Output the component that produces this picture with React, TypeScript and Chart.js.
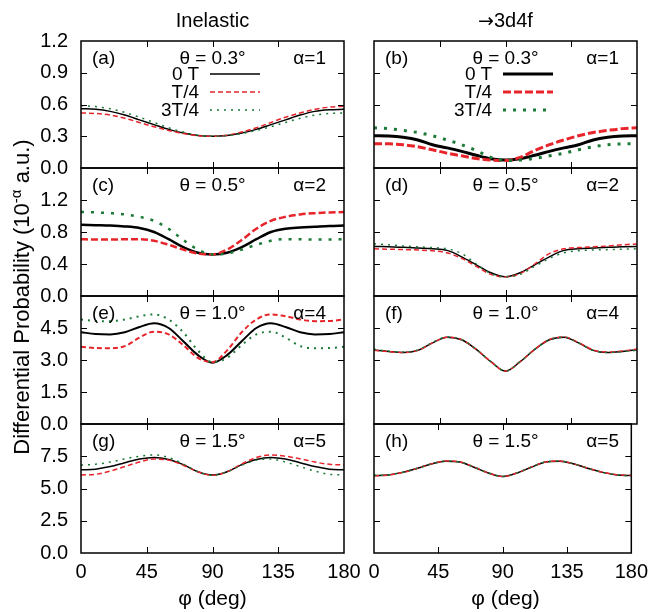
import React, { useEffect, useRef } from "react";
import { Chart, registerables } from "chart.js";
Chart.register(...registerables);

// ---------- data ----------
const phi = [0, 10, 20, 30, 40, 50, 60, 70, 80, 90, 100, 110, 120, 130, 140, 150, 160, 170, 180];
const phiTicks = [0, 45, 90, 135, 180];

// (a) inelastic, theta = 0.3
const a0T = [0.56, 0.555, 0.535, 0.5, 0.455, 0.41, 0.365, 0.33, 0.307, 0.3, 0.307, 0.33, 0.365, 0.41, 0.455, 0.5, 0.535, 0.55, 0.555];
const aT4 = [0.52, 0.515, 0.5, 0.47, 0.43, 0.39, 0.355, 0.325, 0.305, 0.3, 0.31, 0.34, 0.38, 0.43, 0.48, 0.52, 0.555, 0.575, 0.585];
const a3T4 = [0.59, 0.58, 0.56, 0.525, 0.48, 0.43, 0.38, 0.34, 0.31, 0.3, 0.305, 0.325, 0.355, 0.39, 0.43, 0.47, 0.5, 0.515, 0.52];
// (b) 3d4f, theta = 0.3
const b0T = [0.305, 0.302, 0.29, 0.265, 0.22, 0.19, 0.157, 0.12, 0.088, 0.076, 0.088, 0.12, 0.157, 0.19, 0.22, 0.265, 0.29, 0.302, 0.305];
const bT4 = [0.23, 0.228, 0.22, 0.2, 0.172, 0.14, 0.115, 0.09, 0.075, 0.07, 0.1, 0.165, 0.22, 0.265, 0.305, 0.335, 0.355, 0.372, 0.38];
const b3T4 = [0.38, 0.372, 0.355, 0.335, 0.305, 0.265, 0.22, 0.165, 0.1, 0.07, 0.075, 0.09, 0.115, 0.14, 0.172, 0.2, 0.22, 0.228, 0.23];
// (c) inelastic, theta = 0.5
const c0T = [0.89, 0.885, 0.88, 0.87, 0.85, 0.8, 0.71, 0.61, 0.54, 0.52, 0.54, 0.61, 0.71, 0.8, 0.84, 0.855, 0.865, 0.875, 0.88];
const cT4 = [0.71, 0.705, 0.705, 0.71, 0.71, 0.69, 0.64, 0.58, 0.53, 0.52, 0.58, 0.7, 0.84, 0.94, 0.99, 1.02, 1.035, 1.045, 1.05];
const c3T4 = [1.05, 1.045, 1.035, 1.02, 0.99, 0.94, 0.84, 0.7, 0.58, 0.52, 0.53, 0.58, 0.64, 0.69, 0.71, 0.71, 0.705, 0.705, 0.71];
// (d) 3d4f, theta = 0.5
const d0T = [0.62, 0.615, 0.61, 0.6, 0.59, 0.57, 0.49, 0.39, 0.29, 0.24, 0.29, 0.39, 0.49, 0.57, 0.59, 0.6, 0.61, 0.615, 0.62];
const dT4 = [0.59, 0.585, 0.58, 0.575, 0.565, 0.54, 0.47, 0.37, 0.27, 0.24, 0.28, 0.4, 0.53, 0.59, 0.605, 0.615, 0.625, 0.64, 0.65];
const d3T4 = [0.65, 0.64, 0.625, 0.615, 0.605, 0.59, 0.53, 0.4, 0.28, 0.24, 0.27, 0.37, 0.47, 0.54, 0.565, 0.575, 0.58, 0.585, 0.59];
// (e) inelastic, theta = 1.0
const e0T = [4.3, 4.22, 4.2, 4.3, 4.55, 4.72, 4.5, 3.88, 3.23, 2.87, 3.23, 3.88, 4.5, 4.72, 4.55, 4.3, 4.2, 4.22, 4.3];
const eT4 = [3.62, 3.56, 3.55, 3.65, 4.05, 4.33, 4.2, 3.7, 3.1, 2.9, 3.45, 4.3, 4.9, 5.14, 5.05, 4.9, 4.82, 4.83, 4.9];
const e3T4 = [4.9, 4.83, 4.82, 4.9, 5.05, 5.14, 4.9, 4.3, 3.45, 2.9, 3.1, 3.7, 4.2, 4.33, 4.05, 3.65, 3.55, 3.56, 3.62];
// (f) 3d4f, theta = 1.0
const f0T = [3.47, 3.4, 3.35, 3.45, 3.8, 4.07, 3.95, 3.5, 2.92, 2.48, 2.92, 3.5, 3.95, 4.07, 3.8, 3.45, 3.35, 3.4, 3.48];
const fT4 = [3.46, 3.39, 3.35, 3.45, 3.8, 4.07, 3.95, 3.5, 2.92, 2.48, 2.92, 3.5, 3.96, 4.08, 3.82, 3.47, 3.37, 3.42, 3.52];
const f3T4 = [3.5, 3.42, 3.37, 3.47, 3.82, 4.08, 3.96, 3.5, 2.92, 2.48, 2.92, 3.5, 3.95, 4.07, 3.8, 3.45, 3.35, 3.39, 3.46];
// (g) inelastic, theta = 1.5
const g0T = [6.45, 6.5, 6.7, 7.0, 7.28, 7.4, 7.25, 6.85, 6.3, 6.05, 6.3, 6.85, 7.25, 7.4, 7.28, 7.0, 6.7, 6.5, 6.45];
const gT4 = [6.05, 6.1, 6.35, 6.7, 7.05, 7.28, 7.2, 6.8, 6.3, 6.02, 6.3, 6.9, 7.4, 7.6, 7.5, 7.3, 7.05, 6.88, 6.82];
const g3T4 = [6.82, 6.88, 7.05, 7.3, 7.5, 7.6, 7.4, 6.9, 6.3, 6.02, 6.3, 6.8, 7.2, 7.28, 7.05, 6.7, 6.35, 6.1, 6.05];
// (h) 3d4f, theta = 1.5
const h0T = [6.0, 6.05, 6.25, 6.55, 6.9, 7.12, 7.05, 6.65, 6.2, 5.93, 6.2, 6.65, 7.05, 7.12, 6.9, 6.55, 6.25, 6.05, 6.0];
const hT4 = [5.98, 6.04, 6.24, 6.55, 6.9, 7.13, 7.06, 6.66, 6.2, 5.93, 6.2, 6.66, 7.06, 7.13, 6.9, 6.56, 6.26, 6.06, 6.02];
const h3T4 = [6.02, 6.06, 6.26, 6.56, 6.9, 7.13, 7.06, 6.66, 6.2, 5.93, 6.2, 6.66, 7.06, 7.13, 6.9, 6.55, 6.24, 6.04, 5.98];

const rowMax = [1.2, 1.6, 6, 10];
const rowStep = [0.3, 0.4, 1.5, 2.5];
const rowTicks = [
  [0, 0.3, 0.6, 0.9, 1.2],
  [0, 0.4, 0.8, 1.2, 1.6],
  [0, 1.5, 3, 4.5, 6],
  [0, 2.5, 5, 7.5, 10],
];
const thetaLabels = ["θ = 0.3°", "θ = 0.5°", "θ = 1.0°", "θ = 1.5°"];
const alphaLabels = ["α=1", "α=2", "α=4", "α=5"];
const seriesNames = ["0 T", "T/4", "3T/4"];
const columnTitles = ["Inelastic", "3d4f"];

// ---------- layout / style ----------
const W = 655;
const H = 612;
const COLS = [
  { left: 81, right: 344 },
  { left: 374, right: 637 },
];
const ROWS = [
  { top: 41, bottom: 168 },
  { top: 168, bottom: 296 },
  { top: 296, bottom: 424 },
  { top: 424, bottom: 553 },
];
const Y_AXIS_W = 60;
const X_AXIS_H = 40;
const FONT = "'Liberation Sans', Arial, Helvetica, sans-serif";
const COLORS = ["#000000", "#e8242b", "#1d7a38"];

type PanelDef = { letter: string; row: number; col: number; series: number[][]; lw: number; legend: boolean };

const PANELS: PanelDef[] = [
  { letter: "(a)", row: 0, col: 0, series: [a0T, aT4, a3T4], lw: 1.5, legend: true },
  { letter: "(b)", row: 0, col: 1, series: [b0T, bT4, b3T4], lw: 3, legend: true },
  { letter: "(c)", row: 1, col: 0, series: [c0T, cT4, c3T4], lw: 2.5, legend: false },
  { letter: "(d)", row: 1, col: 1, series: [d0T, dT4, d3T4], lw: 1.5, legend: false },
  { letter: "(e)", row: 2, col: 0, series: [e0T, eT4, e3T4], lw: 2, legend: false },
  { letter: "(f)", row: 2, col: 1, series: [f0T, fT4, f3T4], lw: 1.5, legend: false },
  { letter: "(g)", row: 3, col: 0, series: [g0T, gT4, g3T4], lw: 1.5, legend: false },
  { letter: "(h)", row: 3, col: 1, series: [h0T, hT4, h3T4], lw: 1.5, legend: false },
];

function dashFor(i: number, lw: number): number[] {
  if (i === 1) return [Math.max(5, Math.round(lw * 2.7)), 3];
  if (i === 2) return [Math.max(2, Math.round(lw)), lw >= 2.5 ? 7 : 5];
  return [];
}

const framePlugin = {
  id: "frame",
  afterDatasetsDraw(chart: any, _args: any, opts: any) {
    const { ctx, chartArea: a, scales } = chart;
    ctx.save();
    ctx.strokeStyle = "#000";
    ctx.lineWidth = 1;
    ctx.beginPath();
    for (const v of phiTicks) {
      if (v === phiTicks[0] || v === phiTicks[phiTicks.length - 1]) continue;
      const px = Math.round(scales.x.getPixelForValue(v)) + 0.5;
      ctx.moveTo(px, a.bottom);
      ctx.lineTo(px, a.bottom - 6);
      ctx.moveTo(px, a.top);
      ctx.lineTo(px, a.top + 6);
    }
    const yt: number[] = opts.yTicks || [];
    for (let k = 1; k < yt.length - 1; k++) {
      const py = Math.round(scales.y.getPixelForValue(yt[k])) + 0.5;
      ctx.moveTo(a.left, py);
      ctx.lineTo(a.left + 6, py);
      ctx.moveTo(a.right, py);
      ctx.lineTo(a.right - 6, py);
    }
    ctx.stroke();
    ctx.lineWidth = 1.5;
    ctx.strokeRect(a.left, a.top, a.right - a.left, a.bottom - a.top);

    if (opts.legend) {
      chart.data.datasets.forEach((ds: any, i: number) => {
        const y = a.top + 33 + 18 * i;
        ctx.beginPath();
        ctx.strokeStyle = ds.borderColor;
        ctx.lineWidth = ds.borderWidth;
        ctx.setLineDash(ds.borderDash || []);
        ctx.moveTo(a.left + 129, y);
        ctx.lineTo(a.left + 179, y);
        ctx.stroke();
      });
      ctx.setLineDash([]);
    }
    ctx.restore();
  },
};

function Panel({ def }: { def: PanelDef }) {
  const ref = useRef<HTMLCanvasElement | null>(null);
  useEffect(() => {
    if (!ref.current) return;
    const col = COLS[def.col];
    const row = ROWS[def.row];
    const ymax = rowMax[def.row];
    const showTop = def.row === 0;
    const isLeft = def.col === 0;
    const isBottom = def.row === 3;
    const chart = new Chart(ref.current, {
      type: "line",
      data: {
        datasets: def.series.map((vals, i) => ({
          label: seriesNames[i],
          data: phi.map((p, k) => ({ x: p, y: vals[k] })),
          borderColor: COLORS[i],
          borderWidth: def.lw,
          borderDash: dashFor(i, def.lw),
          pointRadius: 0,
          fill: false,
          cubicInterpolationMode: "monotone",
          order: 2 - i,
        })),
      },
      options: {
        animation: false,
        responsive: false,
        events: [],
        layout: {
          padding: {
            left: col.left - Y_AXIS_W,
            right: W - col.right,
            top: row.top,
            bottom: H - row.bottom - X_AXIS_H,
          },
        },
        plugins: {
          legend: { display: false },
          tooltip: { enabled: false },
          frame: { legend: def.legend, yTicks: rowTicks[def.row] },
        } as any,
        scales: {
          x: {
            type: "linear",
            min: phiTicks[0],
            max: phiTicks[phiTicks.length - 1],
            grid: { display: false, drawTicks: false },
            border: { display: false },
            afterFit: (s: any) => {
              s.height = X_AXIS_H;
            },
            ticks: {
              display: isBottom,
              stepSize: 45,
              autoSkip: false,
              maxRotation: 0,
              padding: 7,
              color: "#000",
              font: { family: FONT, size: 20 },
              callback: (v: any) => String(v),
            },
          },
          y: {
            type: "linear",
            min: 0,
            max: ymax,
            grid: { display: false, drawTicks: false },
            border: { display: false },
            afterFit: (s: any) => {
              s.width = Y_AXIS_W;
            },
            ticks: {
              display: isLeft,
              stepSize: rowStep[def.row],
              autoSkip: false,
              padding: 13,
              color: "#000",
              font: { family: FONT, size: 20 },
              callback: (v: any) => (showTop || Math.abs(v - ymax) > 1e-9 ? Number(v).toFixed(1) : ""),
            },
          },
        },
      },
      plugins: [framePlugin],
    } as any);
    return () => chart.destroy();
  }, [def]);
  return (
    <canvas
      ref={ref}
      width={W}
      height={H}
      style={{ position: "absolute", left: 0, top: 0, width: W, height: H }}
    />
  );
}

function Txt({ x, y, align, size, children }: { x: number; y: number; align: "left" | "center" | "right"; size: number; children: any }) {
  const w = 240;
  const left = align === "left" ? x : align === "center" ? x - w / 2 : x - w;
  return (
    <div
      style={{
        position: "absolute",
        left,
        top: y - 12,
        width: w,
        height: 24,
        lineHeight: "24px",
        textAlign: align,
        fontFamily: FONT,
        fontSize: size,
        color: "#000",
        whiteSpace: "nowrap",
      }}
    >
      {children}
    </div>
  );
}

export default function App() {
  return (
    <div style={{ position: "absolute", left: 0, top: 0, width: W, height: H, background: "#fff", overflow: "hidden" }}>
      {PANELS.map((p) => (
        <Panel key={p.letter} def={p} />
      ))}
      <Txt x={(COLS[0].left + COLS[0].right) / 2} y={20} align="center" size={20}>
        {columnTitles[0]}
      </Txt>
      <Txt x={(COLS[1].left + COLS[1].right) / 2} y={20} align="center" size={20}>
        <span style={{ fontFamily: "'DejaVu Sans', sans-serif", fontSize: 19 }}>→</span>
        {columnTitles[1]}
      </Txt>
      {COLS.map((c, i) => (
        <Txt key={"xl" + i} x={(c.left + c.right) / 2} y={598} align="center" size={21}>
          φ (deg)
        </Txt>
      ))}
      {PANELS.map((p) => {
        const c = COLS[p.col];
        const r = ROWS[p.row];
        return (
          <React.Fragment key={"lab" + p.letter}>
            <Txt x={c.left + 11} y={r.top + 17} align="left" size={19}>
              {p.letter}
            </Txt>
            <Txt x={(c.left + c.right) / 2} y={r.top + 17} align="center" size={19}>
              {thetaLabels[p.row]}
            </Txt>
            <Txt x={c.right - 18} y={r.top + 17} align="right" size={19}>
              {alphaLabels[p.row]}
            </Txt>
            {p.legend &&
              seriesNames.map((n, i) => (
                <Txt key={n} x={c.left + 118} y={r.top + 33 + 18 * i} align="right" size={19}>
                  {n}
                </Txt>
              ))}
          </React.Fragment>
        );
      })}
      <div
        style={{
          position: "absolute",
          left: 22 - 200,
          top: 297 - 14,
          width: 400,
          height: 28,
          lineHeight: "28px",
          textAlign: "center",
          fontFamily: FONT,
          fontSize: 22,
          color: "#000",
          whiteSpace: "nowrap",
          transform: "rotate(-90deg)",
        }}
      >
        Differential Probability (10<sup style={{ fontSize: 15, verticalAlign: "8px", lineHeight: 0 }}>-α</sup> a.u.)
      </div>
    </div>
  );
}
